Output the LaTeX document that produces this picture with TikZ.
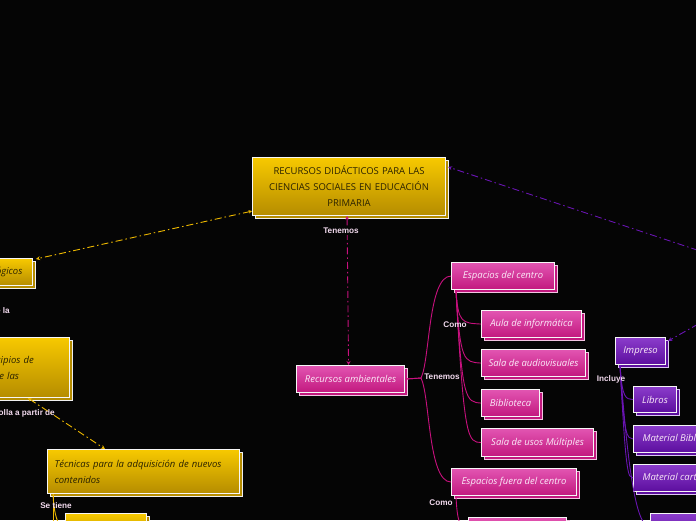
\documentclass[tikz,border=0pt]{standalone}
\usepackage{fontspec}
\setmainfont{Open Sans}
\newfontfamily\lblfont{Liberation Sans}
\usetikzlibrary{arrows.meta,shadows}
\definecolor{bg}{HTML}{050505}
\definecolor{goldT}{HTML}{F7C900}
\definecolor{goldB}{HTML}{B58C00}
\definecolor{pinkT}{HTML}{E255B2}
\definecolor{pinkB}{HTML}{C2187E}
\definecolor{pinkS}{HTML}{F2C4E2}
\definecolor{purT}{HTML}{8B3CCB}
\definecolor{purB}{HTML}{5C0E9E}
\definecolor{purS}{HTML}{DCC6F2}
\definecolor{goldL}{HTML}{EDB800}
\definecolor{pinkL}{HTML}{C8107E}
\definecolor{purL}{HTML}{6A14B4}
\definecolor{lbl}{HTML}{F2DAEE}
\definecolor{darktxt}{HTML}{2A2200}
\definecolor{lighttxt}{HTML}{FBEAF8}
\begin{document}
\begin{tikzpicture}[x=1pt,y=-1pt,
  box/.style={draw=white!94!gray, line width=1.1pt, inner xsep=6pt, inner ysep=0pt,
    anchor=north west, font=\fontsize{9.5}{16}\selectfont\itshape},
  gbox/.style={box, top color=goldT, bottom color=goldB, text=darktxt,
    general shadow={shadow xshift=3pt, shadow yshift=-3pt, fill=goldB, draw=white!88!gray, line width=0.9pt}},
  pbox/.style={box, top color=pinkT, bottom color=pinkB, text=lighttxt,
    general shadow={shadow xshift=3pt, shadow yshift=-3pt, fill=pinkB, draw=pinkS, line width=0.9pt}},
  ubox/.style={box, top color=purT, bottom color=purB, text=lighttxt,
    general shadow={shadow xshift=3pt, shadow yshift=-3pt, fill=purB, draw=purS, line width=0.9pt}},
  lab/.style={font=\lblfont\bfseries\fontsize{8.2}{9}\selectfont, text=lbl, inner sep=1pt},
  gline/.style={draw=goldL, line width=0.9pt},
  pline/.style={draw=pinkL, line width=0.9pt},
  uline/.style={draw=purL, line width=0.9pt},
  dd/.style={dash pattern=on 7pt off 3pt on 1.5pt off 3pt},
  tips/.style={{Stealth[length=3.5pt,width=3.5pt]}-{Stealth[length=4pt,width=4pt]}},
]
\useasboundingbox (0,0) rectangle (696,520);
\fill[bg] (0,0) rectangle (696,520);
\clip (0,0) rectangle (696,520);

% ---------- off-screen coordinates ----------
\coordinate (rightend) at (700,251);
\coordinate (imptop) at (700,323);
\coordinate (ybelow) at (53,560);

% ---------- nodes ----------
\node[gbox, minimum width=191pt, minimum height=58pt, text width=181pt, align=center,
  font=\fontsize{9.5}{16}\selectfont\upshape] (main) at (252,157)
  {RECURSOS DIDÁCTICOS PARA LAS\\CIENCIAS SOCIALES EN EDUCACIÓN\\PRIMARIA};

\node[gbox, anchor=north east, minimum height=27pt, inner xsep=10pt] (tl) at (33,258)
  {Recursos metodológicos};

\node[gbox, anchor=north east, minimum height=60pt, text width=84pt, inner xsep=6pt, align=left] (pr) at (70,337)
  {Principios de\\desde las};

\node[gbox, minimum width=192pt, minimum height=44pt, text width=178pt, inner xsep=7pt, align=left] (tec) at (47,449)
  {Técnicas para la adquisición de nuevos\\contenidos};

\node[gbox, minimum width=81pt, minimum height=30pt] (yb) at (65,513) {};

\node[pbox, minimum width=108pt, minimum height=27pt] (ra) at (296,365) {Recursos ambientales};
\node[pbox, minimum width=103pt, minimum height=27pt] (ec) at (451,262) {Espacios del centro};
\node[pbox, minimum width=100pt, minimum height=27pt] (aula) at (481,310) {Aula de informática};
\node[pbox, minimum width=104pt, minimum height=27pt] (sav) at (481,349) {Sala de audiovisuales};
\node[pbox, minimum width=58pt, minimum height=27pt] (bib) at (481,389) {Biblioteca};
\node[pbox, minimum width=112pt, minimum height=28pt] (sum) at (481,428) {Sala de usos Múltiples};
\node[pbox, minimum width=125pt, minimum height=27pt] (efc) at (451,468) {Espacios fuera del centro};
\node[pbox, minimum width=98pt, minimum height=27pt] (pb) at (468,517) {};

\node[ubox, minimum width=50pt, minimum height=27pt] (imp) at (615,337) {Impreso};
\node[ubox, minimum width=43pt, minimum height=26pt] (lib) at (633,386) {Libros};
\node[ubox, minimum height=27pt, inner xsep=9pt] (mb) at (633,425) {Material Bibliográfico};
\node[ubox, minimum height=27pt, inner xsep=9pt] (mc) at (633,464) {Material cartográfico};
\node[ubox, minimum width=80pt, minimum height=27pt] (purb) at (650,513) {};

% ---------- connectors ----------
% dashed relations
\draw[gline, dd, tips] ([yshift=5pt]main.south west) -- ([xshift=3pt,yshift=-1pt]tl.north east);
\draw[uline, dd, tips] (rightend) -- ([xshift=2pt,yshift=-10pt]main.north east);
\draw[pline, dd, tips] ([xshift=-2pt]main.south) -- ([xshift=-2pt]ra.north);
\draw[gline, dd, tips] ([xshift=-42pt]pr.south east) -- ([xshift=58pt]tec.north west);
\draw[uline, dd, tips] (imptop) -- ([xshift=2pt,yshift=-4pt]imp.north east);

% pink tree
\draw[pline] (ra.east) -- (421,378) .. controls (430,360) and (428,276) .. (ec.west);
\draw[pline] (ra.east) -- (421,378) .. controls (430,396) and (428,482) .. (efc.west);
\draw[pline] ([xshift=5pt]ec.south west) .. controls (458,323) and (462,323) .. (aula.west);
\draw[pline] ([xshift=5pt]ec.south west) .. controls (460,362) and (464,362) .. (sav.west);
\draw[pline] ([xshift=5pt]ec.south west) .. controls (462,401) and (466,402) .. (bib.west);
\draw[pline] ([xshift=5pt]ec.south west) .. controls (464,441) and (468,442) .. (sum.west);
\draw[pline] ([xshift=5pt]efc.south west) .. controls (457,520) and (460,530) .. (pb.west);

% purple tree
\draw[uline] ([xshift=5pt]imp.south west) .. controls (622,399) and (626,399) .. (lib.west);
\draw[uline] ([xshift=5pt]imp.south west) .. controls (624,438) and (627,438) .. (mb.west);
\draw[uline] ([xshift=5pt]imp.south west) .. controls (626,477) and (628,477) .. (mc.west);
\draw[uline] ([xshift=5pt]imp.south west) .. controls (628,470) and (636,527) .. (purb.west);

% yellow tree
\draw[gline] ([xshift=6pt]tec.south west) .. controls (54,515) and (58,528) .. (yb.west);
\draw[gline] ([xshift=6pt]tec.south west) -- (ybelow);

% ---------- labels ----------
\node[lab, fill=bg] (l1) at (341,231) {Tenemos};
\node[lab] (l2) at (442,377) {Tenemos};
\node[lab] (l3) at (455,325) {Como};
\node[lab] (l4) at (441,503) {Como};
\node[lab] (l5) at (611,379) {Incluye};
\node[lab] (l6) at (56,506) {Se tiene};
\node[lab, anchor=east] (l7) at (11,311) {de la};
\node[lab, anchor=east] (l8) at (56,413) {Se desarrolla a partir de};
\end{tikzpicture}
\end{document}
